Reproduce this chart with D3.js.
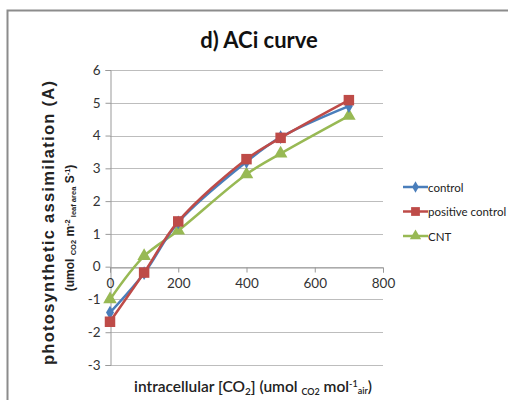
<!DOCTYPE html>
<html>
<head>
<meta charset="utf-8">
<script src="https://cdn.jsdelivr.net/npm/d3@7"></script>
<style>
  body { margin: 0; background: #fff; }
  svg { display: block; }
</style>
</head>
<body>
<script>
// Datos
const ci = [0, 100, 200, 400, 500, 700];
const control = [-1.4, -0.2, 1.35, 3.2, 3.95, 4.9];
const positiveControl = [-1.68, -0.18, 1.38, 3.28, 3.93, 5.08];
const cnt = [-1.0, 0.32, 1.1, 2.82, 3.45, 4.6];
const seriesNames = ["control", "positive control", "CNT"];
const xTicks = [0, 200, 400, 600, 800];
const yTicks = [-3, -2, -1, 0, 1, 2, 3, 4, 5, 6];

const w = 508;
const h = 400;
const calibri = "Lato, 'Open Sans', sans-serif";
const arial = "'Liberation Sans', Arial, sans-serif";

const svg = d3.select("body")
    .append("svg")
    .attr("width", w)
    .attr("height", h);

// Marco
svg.append("path")
    .attr("d", "M7.5," + h + "V10.5H" + w)
    .attr("fill", "none")
    .attr("stroke", "#8c8c8c")
    .attr("stroke-width", 2);

// Escalas
const xScale = d3.scaleLinear().domain([0, 800]).range([110, 383]);
const yScale = d3.scaleLinear().domain([-3, 6]).range([365, 70]);

// Rejilla
svg.append("g")
    .selectAll("line")
    .data(yTicks)
    .enter()
    .append("line")
    .attr("x1", xScale(0))
    .attr("x2", xScale(800))
    .attr("y1", d => Math.round(yScale(d)) + 0.5)
    .attr("y2", d => Math.round(yScale(d)) + 0.5)
    .attr("stroke", "#bdbdbd")
    .attr("stroke-width", 1);

// Eje Y
const yAxis = d3.axisLeft(yScale)
    .tickValues(yTicks)
    .tickFormat(d => String(d))
    .tickSize(5)
    .tickPadding(5);
const gy = svg.append("g")
    .attr("transform", "translate(110.5,0)")
    .call(yAxis);
gy.selectAll("text").attr("font-family", calibri).attr("font-size", 13.5).attr("fill", "#333");
gy.selectAll("line, path").attr("stroke", "#999");

// Eje X (cruza en 0)
const xAxis = d3.axisBottom(xScale)
    .tickValues(xTicks)
    .tickFormat(d => String(d))
    .tickSize(5)
    .tickPadding(6);
const gx = svg.append("g")
    .attr("transform", "translate(0," + (Math.round(yScale(0)) + 0.5) + ")")
    .call(xAxis);
gx.selectAll("text").attr("font-family", calibri).attr("font-size", 13.5).attr("fill", "#333");
gx.selectAll("line, path").attr("stroke", "#999");

// Series
const colors = ["#4a7ebb", "#be4b48", "#98b954"];
const allSeries = [control, positiveControl, cnt];
const line = d3.line()
    .x((d, i) => xScale(ci[i]))
    .y(d => yScale(d))
    .curve(d3.curveCatmullRom.alpha(0.5));

const symbols = [d3.symbolDiamond, d3.symbolSquare, d3.symbolTriangle];
const symSizes = [55, 110, 80];

[2, 0, 1].forEach(k => {
    svg.append("path")
        .datum(allSeries[k])
        .attr("d", line)
        .attr("fill", "none")
        .attr("stroke", colors[k])
        .attr("stroke-width", 2.5);
    svg.append("g")
        .selectAll("path")
        .data(allSeries[k])
        .enter()
        .append("path")
        .attr("transform", (d, i) => "translate(" + xScale(ci[i]) + "," + yScale(d) + ")")
        .attr("d", d3.symbol().type(symbols[k]).size(symSizes[k]))
        .attr("fill", colors[k]);
});

// Leyenda
const legend = svg.append("g");
seriesNames.forEach((name, k) => {
    const y = 187 + k * 24.5;
    legend.append("line")
        .attr("x1", 403).attr("x2", 428)
        .attr("y1", y).attr("y2", y)
        .attr("stroke", colors[k])
        .attr("stroke-width", 2.5);
    legend.append("path")
        .attr("transform", "translate(415.5," + y + ")")
        .attr("d", d3.symbol().type(symbols[k]).size(symSizes[k] * 0.7))
        .attr("fill", colors[k]);
    legend.append("text")
        .attr("x", 428)
        .attr("y", y + 4.5)
        .attr("font-family", calibri)
        .attr("font-size", 11.5)
        .attr("fill", "#222")
        .text(name);
});

// Título
svg.append("text")
    .attr("x", 259)
    .attr("y", 48)
    .attr("text-anchor", "middle")
    .attr("font-family", calibri)
    .attr("font-weight", "bold")
    .attr("font-size", 22)
    .attr("fill", "#111")
    .text("d) ACi curve");

// Título eje Y
svg.append("text")
    .attr("transform", "translate(54,223) rotate(-90)")
    .attr("text-anchor", "middle")
    .attr("font-family", arial)
    .attr("font-weight", "bold")
    .attr("font-size", 16.5)
    .attr("fill", "#222")
    .attr("textLength", 284)
    .attr("lengthAdjust", "spacing")
    .text("photosynthetic assimilation (A)");

const yt2 = svg.append("text")
    .attr("transform", "translate(74,228) rotate(-90)")
    .attr("text-anchor", "middle")
    .attr("font-family", arial)
    .attr("font-weight", "bold")
    .attr("font-size", 12)
    .attr("fill", "#222");
yt2.append("tspan").text("(umol ");
yt2.append("tspan").attr("font-size", 7.5).attr("dy", 2).text("CO2");
yt2.append("tspan").attr("dy", -2).text("  m");
yt2.append("tspan").attr("font-size", 7.5).attr("dy", -4).text("-2");
yt2.append("tspan").attr("font-size", 7.5).attr("dy", 6).text(" leaf area");
yt2.append("tspan").attr("dy", -2).text(" S");
yt2.append("tspan").attr("font-size", 7.5).attr("dy", -4).text("-1");
yt2.append("tspan").attr("dy", 4).text(")");

// Título eje X
const xt = svg.append("text")
    .attr("x", 253)
    .attr("y", 392)
    .attr("text-anchor", "middle")
    .attr("font-family", calibri)
    .attr("font-weight", "600")
    .attr("font-size", 15.5)
    .attr("fill", "#222");
xt.append("tspan").text("intracellular [CO");
xt.append("tspan").attr("font-size", 10).attr("dy", 3).text("2");
xt.append("tspan").attr("dy", -3).text("] (umol ");
xt.append("tspan").attr("font-size", 9).attr("dy", 3).text("CO2");
xt.append("tspan").attr("dy", -3).text(" mol");
xt.append("tspan").attr("font-size", 9).attr("dy", -5).text("-1");
xt.append("tspan").attr("font-size", 9).attr("dy", 7).text("air");
xt.append("tspan").attr("dy", -2).text(")");
</script>
</body>
</html>
